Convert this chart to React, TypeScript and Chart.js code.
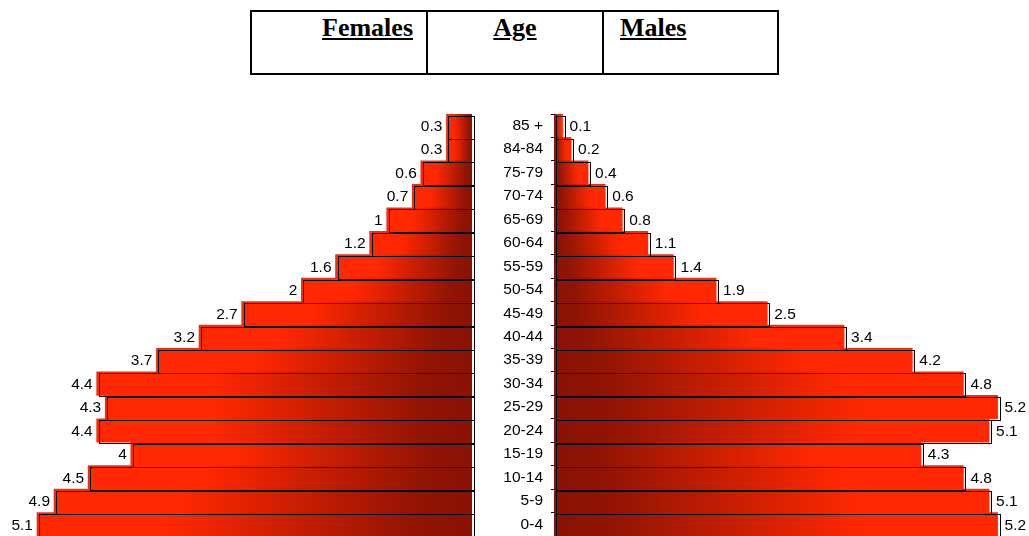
import React, { useEffect, useRef } from "react";
import { Chart, registerables } from "chart.js";

Chart.register(...registerables);

// Age groups from oldest (top) to youngest (bottom)
const ageGroups: string[] = [
  "85 +", "84-84", "75-79", "70-74", "65-69", "60-64", "55-59", "50-54", "45-49",
  "40-44", "35-39", "30-34", "25-29", "20-24", "15-19", "10-14", "5-9", "0-4",
];

// Share of population (%) per age group
const femaleShares: number[] = [
  0.3, 0.3, 0.6, 0.7, 1, 1.2, 1.6, 2, 2.7, 3.2, 3.7, 4.4, 4.3, 4.4, 4, 4.5, 4.9, 5.1,
];
const maleShares: number[] = [
  0.1, 0.2, 0.4, 0.6, 0.8, 1.1, 1.4, 1.9, 2.5, 3.4, 4.2, 4.8, 5.2, 5.1, 4.3, 4.8, 5.1, 5.2,
];

const headerLabels = { females: "Females", age: "Age", males: "Males" };

const PX_PER_UNIT = 85.3;
const DARK = "#8a1204";
const BRIGHT = "#ff2800";
const LABEL_FONT = '15.5px "Liberation Sans", Arial, sans-serif';

// Each bar fades from dark red at the centre line to bright red at its outer end
function barGradient(ctx: any) {
  const chart = ctx.chart;
  if (!chart.chartArea || ctx.type !== "data") return BRIGHT;
  const xs = chart.scales.x;
  const p0 = xs.getPixelForValue(0);
  const p1 = xs.getPixelForValue(ctx.raw);
  if (!isFinite(p0) || !isFinite(p1) || p0 === p1) return BRIGHT;
  const g = chart.ctx.createLinearGradient(p0, 0, p1, 0);
  g.addColorStop(0, DARK);
  g.addColorStop(0.12, "#901404");
  g.addColorStop(0.7, BRIGHT);
  g.addColorStop(1, BRIGHT);
  return g;
}

// Outlined frame slightly offset from every bar, plus the value text
function frameAndLabels(side: "left" | "right") {
  return {
    id: "frameAndLabels-" + side,
    afterDatasetsDraw(chart: any) {
      const c = chart.ctx;
      const meta = chart.getDatasetMeta(0);
      const values = chart.data.datasets[0].data as number[];
      c.save();
      c.strokeStyle = "#000";
      c.lineWidth = 1;
      meta.data.forEach((bar: any) => {
        const { x, y, base, height } = bar.getProps(["x", "y", "base", "height"], true);
        const left = Math.min(x, base);
        const right = Math.max(x, base);
        const top = y - height / 2;
        const fx = Math.round(left + 2) + 0.5;
        const fr = Math.round(right + 2) + 0.5;
        const fy = Math.round(top + 1.5) + 0.5;
        c.strokeRect(fx, fy, fr - fx, Math.round(height));
      });
      c.fillStyle = "#000";
      c.font = LABEL_FONT;
      c.textBaseline = "middle";
      meta.data.forEach((bar: any, i: number) => {
        const { x, y } = bar.getProps(["x", "y"], true);
        const txt = String(values[i]);
        if (side === "left") {
          c.textAlign = "right";
          c.fillText(txt, x - 4, y + 1);
        } else {
          c.textAlign = "left";
          c.fillText(txt, x + 7, y + 1);
        }
      });
      c.restore();
    },
  };
}

function FemaleChart() {
  const ref = useRef<HTMLCanvasElement>(null);
  useEffect(() => {
    const chart = new Chart(ref.current!, {
      type: "bar",
      data: {
        labels: ageGroups,
        datasets: [
          {
            data: femaleShares,
            backgroundColor: barGradient as any,
            borderWidth: 0,
            barPercentage: 1,
            categoryPercentage: 1,
          },
        ],
      },
      options: {
        indexAxis: "y",
        responsive: false,
        animation: false,
        devicePixelRatio: 1,
        layout: { padding: { left: 0, right: 8, top: 0, bottom: 0 } },
        scales: {
          x: { type: "linear", min: 0, max: 472 / PX_PER_UNIT, reverse: true, display: false },
          y: { display: false },
        },
        plugins: { legend: { display: false }, tooltip: { enabled: false } },
      },
      plugins: [frameAndLabels("left")],
    });
    return () => chart.destroy();
  }, []);
  return (
    <canvas
      ref={ref}
      width={480}
      height={422}
      style={{ position: "absolute", left: 0, top: 114, width: 480, height: 422 }}
    />
  );
}

function MaleChart() {
  const ref = useRef<HTMLCanvasElement>(null);
  useEffect(() => {
    const chart = new Chart(ref.current!, {
      type: "bar",
      data: {
        labels: ageGroups,
        datasets: [
          {
            data: maleShares,
            backgroundColor: barGradient as any,
            borderWidth: 0,
            barPercentage: 1,
            categoryPercentage: 1,
          },
        ],
      },
      options: {
        indexAxis: "y",
        responsive: false,
        animation: false,
        devicePixelRatio: 1,
        layout: { padding: 0, autoPadding: false },
        scales: {
          x: { type: "linear", min: 0, max: (1029 - 554) / PX_PER_UNIT, display: false },
          y: {
            type: "category",
            position: "left",
            afterFit: (s: any) => {
              s.width = 74;
              s.paddingTop = 0;
              s.paddingBottom = 0;
            },
            grid: { drawOnChartArea: false, tickLength: 3, color: "#000", offset: true },
            border: { display: true, color: "#000", width: 1 },
            ticks: {
              color: "#000",
              padding: 8,
              font: { family: '"Liberation Sans", Arial, sans-serif', size: 15.5 },
            },
          },
        },
        plugins: { legend: { display: false }, tooltip: { enabled: false } },
      },
      plugins: [frameAndLabels("right")],
    });
    return () => chart.destroy();
  }, []);
  return (
    <canvas
      ref={ref}
      width={549}
      height={422}
      style={{ position: "absolute", left: 480, top: 114, width: 549, height: 422 }}
    />
  );
}

const headStyle: React.CSSProperties = {
  position: "absolute",
  top: 15,
  fontFamily: '"Liberation Serif", "Times New Roman", serif',
  fontWeight: "bold",
  fontSize: 26,
  lineHeight: "25px",
  textDecoration: "underline",
  color: "#000",
  whiteSpace: "nowrap",
};

export default function App() {
  return (
    <div
      style={{
        position: "fixed",
        left: 0,
        top: 0,
        width: 1029,
        height: 536,
        overflow: "hidden",
        background: "#fff",
      }}
    >
      <div
        style={{
          position: "absolute",
          left: 250,
          top: 10,
          width: 529,
          height: 65,
          boxSizing: "border-box",
          border: "2px solid #000",
        }}
      />
      <div style={{ position: "absolute", left: 426, top: 10, width: 2, height: 65, background: "#000" }} />
      <div style={{ position: "absolute", left: 602, top: 10, width: 2, height: 65, background: "#000" }} />
      <div style={{ ...headStyle, left: 252, width: 161, textAlign: "right" }}>{headerLabels.females}</div>
      <div style={{ ...headStyle, left: 428, width: 174, textAlign: "center" }}>{headerLabels.age}</div>
      <div style={{ ...headStyle, left: 620 }}>{headerLabels.males}</div>
      <FemaleChart />
      <MaleChart />
    </div>
  );
}
